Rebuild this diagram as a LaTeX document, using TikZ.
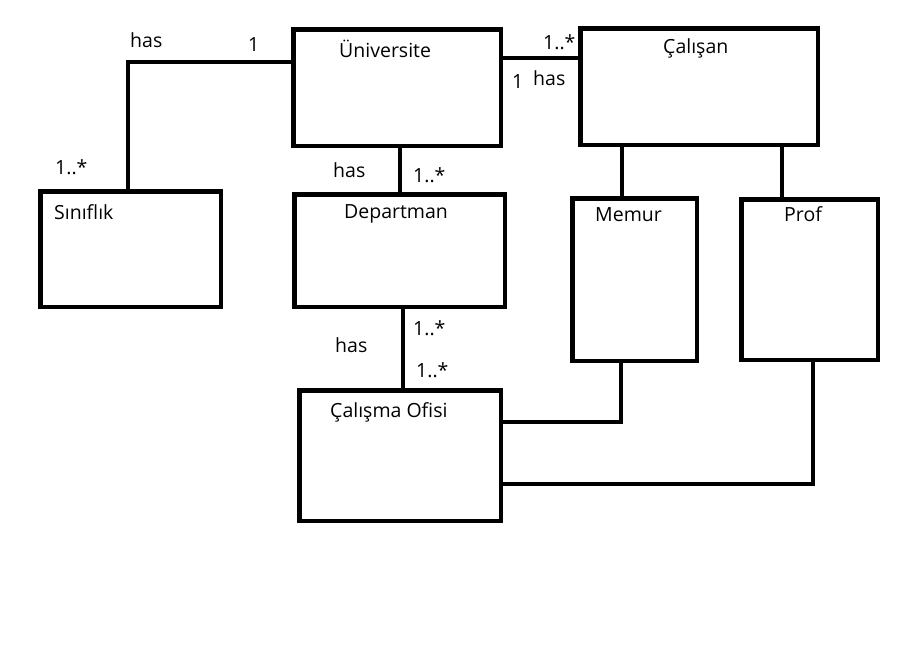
\documentclass[tikz,border=0pt]{standalone}
\usepackage{fontspec}
\setmainfont{Open Sans}
\usetikzlibrary{positioning}

\begin{document}
\begin{tikzpicture}[
    x=1pt, y=-1pt,
    cls/.style={rectangle, draw, line width=4.5pt, inner sep=0pt, minimum width=#1},
    lbl/.style={inner sep=0pt, anchor=base west, font=\fontsize{19.5}{22}\selectfont},
    conn/.style={line width=4.5pt}
]
\useasboundingbox[fill=white] (0,0) rectangle (903,648);

% classes
\node[cls=207.5pt, minimum height=116.5pt] (uni) at (397,87.5) {};
\node[cls=237.5pt, minimum height=116.5pt] (calisan) at (699,86.5) {};
\node[cls=180.5pt, minimum height=115.5pt] (sinif) at (130.5,249) {};
\node[cls=210.5pt, minimum height=112.5pt] (dept) at (399.5,250.5) {};
\node[cls=124.5pt, minimum height=162.5pt] (memur) at (634.5,279.5) {};
\node[cls=136.5pt, minimum height=160.5pt] (prof) at (809.5,279.5) {};
\node[cls=201.5pt, minimum height=130.5pt] (ofis) at (400,455.5) {};

% class names
\node[lbl] (uniName) at (339,57) {Üniversite};
\node[lbl] (calisanName) at (663,53) {Çalışan};
\node[lbl] (sinifName) at (54,219) {Sınıflık};
\node[lbl] (deptName) at (344,218) {Departman};
\node[lbl] (memurName) at (595,221) {Memur};
\node[lbl] (profName) at (784,221) {Prof};
\node[lbl] (ofisName) at (330,417) {Çalışma Ofisi};

% associations
\draw[conn] ([xshift=-2.5pt]sinif.north) |- ([yshift=25.5pt]uni.west);
\draw[conn] ([yshift=29.5pt]uni.east) -- ([yshift=29.5pt]uni.east -| calisan.west);
\draw[conn] ([xshift=0.5pt]dept.north) -- ([xshift=0.5pt]dept.north |- uni.south);
\draw[conn] ([xshift=-12.5pt]memur.north) -- ([xshift=-12.5pt]memur.north |- calisan.south);
\draw[conn] ([xshift=-27.5pt]prof.north) -- ([xshift=-27.5pt]prof.north |- calisan.south);
\draw[conn] ([xshift=3pt]ofis.north) -- ([xshift=3pt]ofis.north |- dept.south);
\draw[conn] ([xshift=-13.5pt]memur.south) |- ([yshift=33.5pt]ofis.east);
\draw[conn] ([xshift=3.5pt]prof.south) |- ([yshift=-28.5pt]ofis.east);

% multiplicities
\node[lbl] (m1) at (130,47) {has};
\node[lbl] (m2) at (248,51) {1};
\node[lbl] (m3) at (55,174) {1..*};
\node[lbl] (m4) at (543,49) {1..*};
\node[lbl] (m5) at (512,88) {1};
\node[lbl] (m6) at (533,85) {has};
\node[lbl] (m7) at (333,177) {has};
\node[lbl] (m8) at (413,182) {1..*};
\node[lbl] (m9) at (413,335) {1..*};
\node[lbl] (m10) at (335,352) {has};
\node[lbl] (m11) at (416,377) {1..*};
\end{tikzpicture}
\end{document}
